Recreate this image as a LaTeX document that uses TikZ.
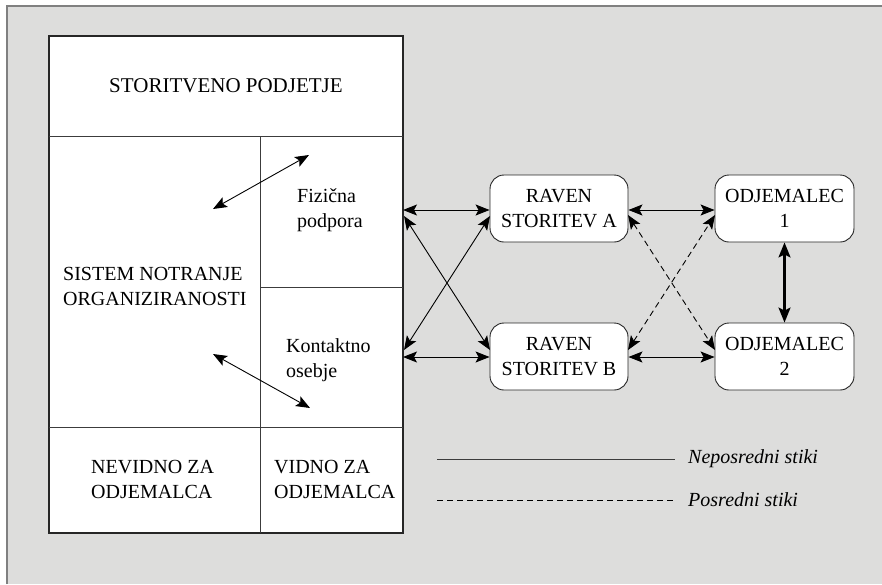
\documentclass[tikz,border=0pt]{standalone}
\usepackage{fontspec}
\setmainfont{Liberation Serif}
\usetikzlibrary{arrows.meta}
\definecolor{bggray}{RGB}{221,221,220}
\definecolor{framegray}{RGB}{128,128,128}
\definecolor{linegray}{RGB}{60,60,60}
\tikzset{
  txt/.style={font=\fontsize{20}{25}\selectfont, inner sep=0pt, align=left, text=black},
  itxt/.style={font=\fontsize{20}{25}\selectfont\itshape, inner sep=0pt, anchor=west, text=black},
  rbox/.style={draw=black!85, line width=0.9pt, fill=white, rounded corners=14pt,
    minimum width=138pt, minimum height=67pt, align=center, inner sep=0pt,
    font=\fontsize{20}{25}\selectfont, text=black},
  tip/.tip={Stealth[length=14pt,width=11pt,inset=3pt]},
  link/.style={line width=0.9pt, black, tip-tip},
  dlink/.style={link, dash pattern=on 6pt off 4pt},
  thicklink/.style={line width=2.2pt, black, {Stealth[length=15pt,width=12pt,inset=3pt]}-{Stealth[length=15pt,width=12pt,inset=3pt]}},
  divider/.style={line width=0.8pt, linegray},
}
\begin{document}
\begin{tikzpicture}[x=1pt,y=-1pt]
\useasboundingbox (0,0) rectangle (882,584);
\fill[white] (0,0) rectangle (882,584);
\fill[bggray] (7,6) rectangle (882,584);
\draw[framegray, line width=1.5pt] (7,584) -- (7,6) -- (882,6);

% main firm box
\node[draw=black!85, line width=1.2pt, fill=white, minimum width=354pt, minimum height=497pt, inner sep=0pt] (firm) at (226,284.5) {};
\draw[divider] (49,136) -- (403,136);
\draw[divider] (260,136) -- (260,533);
\draw[divider] (260,287) -- (403,287);
\draw[divider] (49,427) -- (403,427);

\node[txt, font=\fontsize{21}{25}\selectfont] (title) at (226,86) {STORITVENO PODJETJE};
\node[txt, anchor=west] (sistem) at (63,286) {SISTEM NOTRANJE\\ORGANIZIRANOSTI};
\node[txt, anchor=west] (fiz) at (297,210) {Fizična\\podpora};
\node[txt, anchor=west] (kon) at (286,360) {Kontaktno\\osebje};
\node[txt, anchor=west] (nev) at (91,479) {NEVIDNO ZA\\ODJEMALCA};
\node[txt, anchor=west] (vid) at (274,479) {VIDNO ZA\\ODJEMALCA};

% inner arrows
\coordinate (s1) at (213,209);
\coordinate (f1) at (309,155);
\coordinate (s2) at (213,354);
\coordinate (k2) at (310,408);
\draw[link] (s1) -- (f1);
\draw[link] (s2) -- (k2);

% right nodes
\node[rbox] (ra) at (559,208.5) {RAVEN\\STORITEV A};
\node[rbox] (rb) at (559,356.5) {RAVEN\\STORITEV B};
\node[rbox, minimum width=139pt] (o1) at (784.5,208.5) {ODJEMALEC\\1};
\node[rbox, minimum width=139pt] (o2) at (784.5,356.5) {ODJEMALEC\\2};

% firm edge points
\coordinate (fa) at (403,210);
\coordinate (fb) at (403,357);
\coordinate (fa2) at (404,216);
\coordinate (fb2) at (404,350);
\coordinate (ra2) at (490,216);
\coordinate (rb2) at (490,350);
\draw[link] (fa) -- (fa -| ra.west);
\draw[link] (fb) -- (fb -| rb.west);
\draw[link] (fa2) -- (rb2);
\draw[link] (fb2) -- (ra2);

% right side
\coordinate (ra3) at (628,215);
\coordinate (rb3) at (628,350);
\coordinate (o13) at (715,215);
\coordinate (o23) at (715,350);
\draw[link] (fa -| ra.east) -- (fa -| o1.west);
\draw[link] (fb -| rb.east) -- (fb -| o2.west);
\draw[dlink] (ra3) -- (o23);
\draw[dlink] (rb3) -- (o13);
\draw[thicklink] (o1.south) -- (o2.north);

% legend
\coordinate (l1a) at (437,459);
\coordinate (l1b) at (675,459);
\coordinate (l2a) at (437,500);
\coordinate (l2b) at (675,500);
\draw[line width=1pt, linegray] (l1a) -- (l1b);
\draw[line width=1pt, black, dash pattern=on 6pt off 4pt] (l2a) -- (l2b);
\node[itxt] (leg1) at (688,459) {Neposredni stiki};
\node[itxt] (leg2) at (688,500) {Posredni stiki};
\end{tikzpicture}
\end{document}
